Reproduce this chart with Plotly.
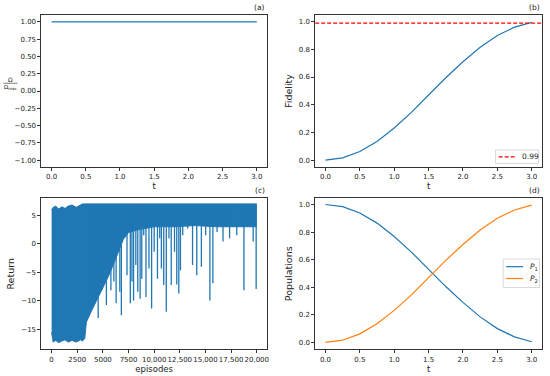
import plotly.graph_objects as go

# ---------------- data ----------------
t = [0.0, 0.25, 0.5, 0.75, 1.0, 1.25, 1.5, 1.75, 2.0, 2.25, 2.5, 2.75, 3.0]
omega_ratio = [1.0] * 13
fidelity = [0.0, 0.016, 0.062, 0.135, 0.232, 0.345, 0.47, 0.595, 0.71, 0.815, 0.9, 0.96, 0.995]
p1 = [1.0, 0.984, 0.938, 0.865, 0.768, 0.655, 0.53, 0.405, 0.29, 0.185, 0.1, 0.04, 0.005]
p2 = [0.0, 0.016, 0.062, 0.135, 0.232, 0.345, 0.47, 0.595, 0.71, 0.815, 0.9, 0.96, 0.995]
threshold = 0.99
threshold_label = "0.99"
pop_names = ["<i>P</i><sub>1</sub>", "<i>P</i><sub>2</sub>"]

env_ep = [0, 150, 400, 700, 1000, 1300, 1600, 2000, 2400, 2800, 3000, 3230, 3390, 3670, 3930,
          4310, 4720, 5110, 5590, 6070, 6600, 7000, 7500, 8500, 10000, 12000, 14000, 16000, 18000, 20000]
env_upper = [5.9, 6.4, 6.6, 6.1, 6.5, 6.2, 6.6, 6.8, 6.4, 6.9, 7.0, 7.0, 7.0, 7.0, 7.0,
             7.0, 7.0, 7.0, 7.0, 7.0, 7.0, 7.0, 7.0, 7.0, 7.0, 7.0, 7.0, 7.0, 7.0, 7.0]
env_lower = [-15.5, -17.2, -16.9, -17.3, -17.0, -16.8, -17.2, -16.9, -17.2, -16.8, -17.0, -16.6, -13.7, -12.5, -11.6,
             -10.2, -8.7, -7.5, -5.5, -3.4, -1.0, 0.8, 2.0, 2.5, 3.0, 3.0, 3.2, 3.0, 3.0, 3.0]

spike_ep = [4030, 4540, 4890, 5020, 5210, 5340, 5590, 5780, 6070, 6290, 6490, 6650, 6800, 7030,
            7350, 7670, 7830, 7990, 8210, 8400, 8630, 8790, 8980, 9200, 9490, 9750, 10000, 10320,
            10540, 10700, 10930, 11180, 11440, 11660, 11980, 12200, 12400, 12560, 12780, 13260,
            13740, 14150, 14600, 15020, 15430, 15720, 16130, 16710, 17350, 18050, 18750, 19650, 19940]
spike_min = [-11.0, -13.0, -8.1, -4.3, 1.7, -10.7, -4.9, -8.1, -6.6, -10.4, -1.4, -8.4, -12.5, 2.7,
             -5.5, -10.4, -6.6, -9.9, -3.7, -8.4, -9.6, -6.1, 1.5, -9.3, -4.3, -11.3, -1.4, -6.1,
             1.0, -4.3, -7.2, -11.9, 1.0, -7.2, -1.4, -7.1, -8.7, -4.6, 1.5, 2.7,
             -3.7, -5.5, -4.0, 1.5, -9.9, -6.9, 2.1, 0.4, 1.0, 1.5, -8.1, 0.4, -7.9]
spike_top = 7.0

ep_ticks = [0, 2500, 5000, 7500, 10000, 12500, 15000, 17500, 20000]
ep_ticktext = ["0", "2500", "5000", "7500", "10,000", "12,500", "15,000", "17,500", "20,000"]

BLUE = "#1f77b4"
ORANGE = "#ff7f0e"
W, H = 550, 376
DASH = "4px,2px"


def px(x):
    return x / W


def py(y):
    return 1 - y / H


fig = go.Figure()

# (a)
fig.add_trace(go.Scatter(x=t, y=omega_ratio, mode="lines", line=dict(color=BLUE, width=1.3),
                         showlegend=False, xaxis="x", yaxis="y"))
# (b)
fig.add_trace(go.Scatter(x=t, y=fidelity, mode="lines", line=dict(color=BLUE, width=1.2),
                         showlegend=False, xaxis="x2", yaxis="y2"))
fig.add_trace(go.Scatter(x=[-0.15, 3.15], y=[threshold, threshold], mode="lines",
                         line=dict(color="red", width=1.2, dash=DASH), name=threshold_label,
                         showlegend=False, xaxis="x2", yaxis="y2"))
# (c) envelope + spikes
fig.add_trace(go.Scatter(x=env_ep, y=env_lower, mode="lines", line=dict(color=BLUE, width=1),
                         showlegend=False, xaxis="x3", yaxis="y3"))
fig.add_trace(go.Scatter(x=env_ep, y=env_upper, mode="lines", line=dict(color=BLUE, width=1),
                         fill="tonexty", fillcolor=BLUE, showlegend=False, xaxis="x3", yaxis="y3"))
sx, sy = [], []
for e, m in zip(spike_ep, spike_min):
    sx += [e, e, None]
    sy += [spike_top, m, None]
fig.add_trace(go.Scatter(x=sx, y=sy, mode="lines", line=dict(color=BLUE, width=1.3),
                         showlegend=False, xaxis="x3", yaxis="y3"))
# (d)
fig.add_trace(go.Scatter(x=t, y=p1, mode="lines", line=dict(color=BLUE, width=1.2),
                         name=pop_names[0], showlegend=False, xaxis="x4", yaxis="y4"))
fig.add_trace(go.Scatter(x=t, y=p2, mode="lines", line=dict(color=ORANGE, width=1.2),
                         name=pop_names[1], showlegend=False, xaxis="x4", yaxis="y4"))

tickfont = dict(family="DejaVu Sans", size=7, color="#222")
common = dict(showline=True, linecolor="#333", linewidth=0.8, mirror=True, ticks="outside",
              ticklen=3, tickwidth=0.8, tickcolor="#333", showgrid=False, zeroline=False,
              tickfont=tickfont, tickangle=0)

xl = [px(41.5), px(268)]
xr = [px(316.3), px(544)]
yt = [py(167), py(15)]
yb = [py(349.3), py(198.3)]

t_ticks = [0, 0.5, 1, 1.5, 2, 2.5, 3]
t_text = ["0.0", "0.5", "1.0", "1.5", "2.0", "2.5", "3.0"]
a_ticks = [1.0, 0.75, 0.5, 0.25, 0.0, -0.25, -0.5, -0.75, -1.0]
a_text = ["1.00", "0.75", "0.50", "0.25", "0.00", "\u22120.25", "\u22120.50", "\u22120.75", "\u22121.00"]
f_ticks = [0, 0.2, 0.4, 0.6, 0.8, 1.0]
f_text = ["0.0", "0.2", "0.4", "0.6", "0.8", "1.0"]
r_ticks = [5, 0, -5, -10, -15]
r_text = ["5", "0", "\u22125", "\u221210", "\u221215"]

labfont = dict(family="DejaVu Sans", size=9.5, color="#222")
xlabfont = dict(family="DejaVu Sans", size=8.5, color="#222")

fig.update_layout(
    width=W, height=H, margin=dict(l=0, r=0, t=0, b=0),
    paper_bgcolor="white", plot_bgcolor="white", showlegend=False,
    xaxis=dict(domain=xl, anchor="y", range=[-0.15, 3.15], tickvals=t_ticks, ticktext=t_text,
               title=dict(text="t", font=xlabfont, standoff=2), **common),
    yaxis=dict(domain=yt, anchor="x", range=[-1.1, 1.1], tickvals=a_ticks, ticktext=a_text, **common),
    xaxis2=dict(domain=xr, anchor="y2", range=[-0.15, 3.15], tickvals=t_ticks, ticktext=t_text,
                title=dict(text="t", font=xlabfont, standoff=2), **common),
    yaxis2=dict(domain=yt, anchor="x2", range=[-0.0498, 1.048], tickvals=f_ticks, ticktext=f_text,
                title=dict(text="Fidelity", font=labfont, standoff=4), **common),
    xaxis3=dict(domain=xl, anchor="y3", range=[-1000, 21000], tickvals=ep_ticks, ticktext=ep_ticktext,
                title=dict(text="episodes", font=xlabfont, standoff=2), **common),
    yaxis3=dict(domain=yb, anchor="x3", range=[-18.46, 7.98], tickvals=r_ticks, ticktext=r_text,
                title=dict(text="Return", font=labfont, standoff=4), **common),
    xaxis4=dict(domain=xr, anchor="y4", range=[-0.15, 3.15], tickvals=t_ticks, ticktext=t_text,
                title=dict(text="t", font=xlabfont, standoff=2), **common),
    yaxis4=dict(domain=yb, anchor="x4", range=[-0.05, 1.045], tickvals=f_ticks, ticktext=f_text,
                title=dict(text="Populations", font=labfont, standoff=4), **common),
)

ann_font = dict(family="DejaVu Sans", size=7.5, color="#222")
for lab, x, y in [("(a)", 268, 7.5), ("(b)", 544, 7.5), ("(c)", 268, 190.5), ("(d)", 544, 190.5)]:
    fig.add_annotation(text=lab, x=px(x), y=py(y), xref="paper", yref="paper",
                       xanchor="right", yanchor="middle", showarrow=False, font=ann_font)

# fraction y-label for (a): Omega / Omega_max
cx, cy = 10.5, 83.3
fig.add_annotation(text="\u03a9", x=px(cx), y=py(cy - 3.6), xref="paper", yref="paper",
                   xanchor="center", yanchor="middle", showarrow=False,
                   font=dict(family="DejaVu Sans", size=6, color="#222"))
fig.add_annotation(text="\u03a9<sub>max</sub>", x=px(cx), y=py(cy + 4.0), xref="paper", yref="paper",
                   xanchor="center", yanchor="middle", showarrow=False,
                   font=dict(family="DejaVu Sans", size=5.5, color="#222"))
fig.add_shape(type="line", x0=px(3.5), x1=px(17.5), y0=py(cy), y1=py(cy), xref="paper", yref="paper",
              line=dict(color="#222", width=0.6))

# legends (matplotlib style boxes)
leg_border = "#d0d0d0"
leg_font = dict(family="DejaVu Sans", size=7.5, color="#222")
fig.add_shape(type="rect", x0=px(497.3), x1=px(540.5), y0=py(150), y1=py(163.5), xref="paper", yref="paper",
              line=dict(color=leg_border, width=0.8), fillcolor="rgba(255,255,255,0.85)")
fig.add_shape(type="line", x0=px(500.5), x1=px(516.5), y0=py(156.8), y1=py(156.8), xref="paper", yref="paper",
              line=dict(color="red", width=1.2, dash=DASH))
fig.add_annotation(text=threshold_label, x=px(521.5), y=py(156.8), xref="paper", yref="paper",
                   xanchor="left", yanchor="middle", showarrow=False, font=leg_font)

fig.add_shape(type="rect", x0=px(505), x1=px(541.5), y0=py(259), y1=py(287.5), xref="paper", yref="paper",
              line=dict(color=leg_border, width=0.8), fillcolor="rgba(255,255,255,0.85)")
for name, col, yy in [(pop_names[0], BLUE, 266.7), (pop_names[1], ORANGE, 278.5)]:
    fig.add_shape(type="line", x0=px(508), x1=px(525), y0=py(yy), y1=py(yy), xref="paper", yref="paper",
                  line=dict(color=col, width=1.2))
    fig.add_annotation(text=name, x=px(529.5), y=py(yy), xref="paper", yref="paper",
                       xanchor="left", yanchor="middle", showarrow=False, font=leg_font)

fig.write_html("out.html", config={"displayModeBar": False},
               post_script="document.body.style.margin='0';")
